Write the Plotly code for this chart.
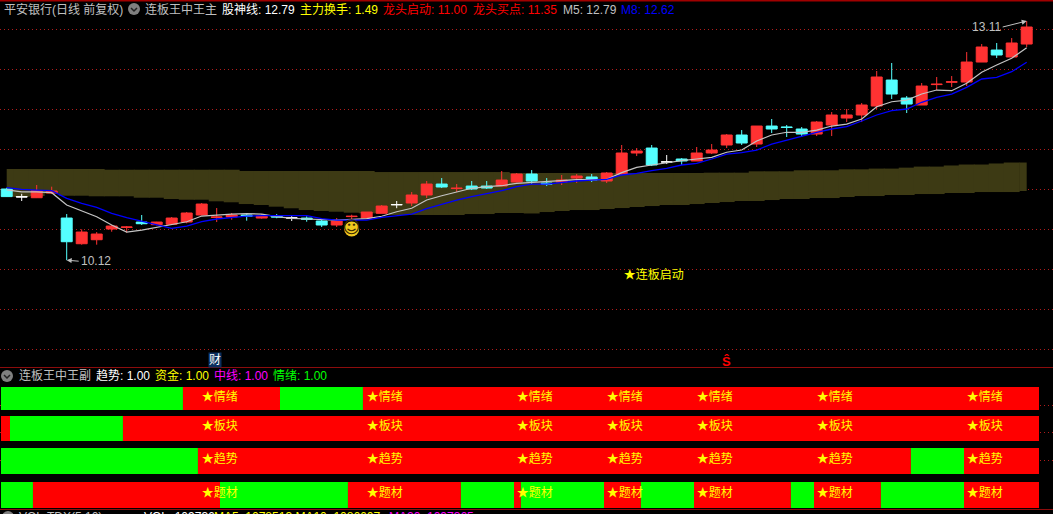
import plotly.graph_objects as go

W, H = 1053, 514
RED, CYAN, WHITE = "#ff3232", "#54ffff", "#ffffff"

opens = [11.01,10.915,10.901,10.96,10.647,10.326,10.376,10.51,10.53,10.597,10.564,10.569,10.597,10.685,10.655,10.66,10.685,10.647,10.672,10.65,10.647,10.61,10.56,10.665,10.647,10.706,10.816,10.835,10.935,11.072,11.015,11.047,11.047,11.047,11.097,11.197,11.085,11.097,11.147,11.16,11.11,11.197,11.46,11.522,11.35,11.385,11.36,11.46,11.56,11.685,11.572,11.797,11.785,11.76,11.697,11.81,11.897,11.935,12.047,12.372,12.147,12.06,12.315,12.345,12.347,12.597,12.747,12.66,12.822]
highs = [11.025,10.95,11.06,11.039,10.697,10.506,10.472,10.56,10.547,10.685,10.6,10.66,10.722,10.835,10.772,10.71,10.706,10.697,10.697,10.672,10.669,10.635,10.647,10.689,10.722,10.81,10.86,10.972,11.11,11.147,11.072,11.11,11.11,11.235,11.21,11.247,11.147,11.185,11.197,11.197,11.222,11.56,11.522,11.56,11.435,11.397,11.535,11.572,11.697,11.747,11.797,11.885,11.81,11.785,11.86,11.972,12.01,12.085,12.485,12.585,12.172,12.335,12.41,12.422,12.722,12.822,12.835,12.897,13.11]
lows = [10.91,10.86,10.897,10.947,10.12,10.314,10.314,10.476,10.464,10.56,10.556,10.56,10.581,10.681,10.597,10.626,10.614,10.639,10.644,10.61,10.601,10.535,10.535,10.631,10.647,10.706,10.77,10.797,10.897,11.022,10.972,10.997,11.01,11.047,11.094,11.072,11.047,11.06,11.085,11.097,11.085,11.185,11.422,11.297,11.322,11.31,11.36,11.447,11.522,11.56,11.535,11.71,11.66,11.66,11.672,11.672,11.847,11.847,12.01,12.135,11.96,12.06,12.247,12.285,12.297,12.597,12.647,12.66,12.785]
closes = [10.915,10.91,10.989,10.985,10.351,10.472,10.447,10.547,10.535,10.576,10.597,10.647,10.71,10.822,10.66,10.685,10.668,10.672,10.66,10.647,10.631,10.56,10.61,10.669,10.722,10.797,10.813,10.935,11.072,11.035,11.02,11.01,11.022,11.122,11.197,11.11,11.072,11.122,11.172,11.122,11.21,11.46,11.485,11.31,11.347,11.36,11.46,11.497,11.685,11.585,11.797,11.76,11.78,11.697,11.847,11.935,11.935,12.06,12.41,12.197,12.072,12.297,12.32,12.35,12.597,12.785,12.685,12.835,13.035]
white_bars = [1, 19, 26, 44]

ma5 = [11.0,10.973,10.973,10.964,10.81,10.739,10.664,10.56,10.472,10.497,10.531,10.56,10.601,10.672,10.685,10.697,10.701,10.697,10.664,10.644,10.635,10.631,10.622,10.631,10.639,10.669,10.726,10.769,10.872,10.926,10.969,11.019,11.039,11.051,11.081,11.094,11.101,11.114,11.126,11.126,11.131,11.214,11.281,11.31,11.339,11.364,11.385,11.406,11.469,11.497,11.61,11.685,11.719,11.719,11.747,11.797,11.822,11.885,12.039,12.101,12.122,12.197,12.247,12.239,12.331,12.469,12.56,12.644,12.776]
ma8 = [11.026,11.006,10.997,10.989,10.894,10.831,10.781,10.706,10.651,10.61,10.56,10.519,10.547,10.601,10.635,10.651,10.672,10.676,10.676,10.681,10.676,10.639,10.622,10.622,10.622,10.656,10.681,10.697,10.764,10.822,10.872,10.914,10.947,10.989,11.039,11.072,11.072,11.094,11.11,11.122,11.131,11.185,11.206,11.239,11.269,11.31,11.331,11.385,11.447,11.464,11.497,11.572,11.622,11.664,11.719,11.76,11.789,11.86,11.935,11.989,12.01,12.094,12.156,12.197,12.281,12.385,12.406,12.476,12.594]

band_top = [11.26]*7 + [11.251]*9 + [11.235]*9 + [11.222]*9 + [11.21]*13 + [11.214]*3 + [11.231]*3 + [11.244]*3 + [11.256]*2 + [11.265]*2 + [11.277] + [11.29]*2 + [11.304] + [11.316]*2 + [11.329] + [11.341]*2
band_bottom = [10.91,10.91,10.922,10.954,10.926,10.926,10.919,10.919,10.919,10.901,10.901,10.885,10.876,10.876,10.856,10.844,10.822,10.81,10.789,10.769,10.747,10.735,10.726,10.714,10.706,10.706,10.685,10.685,10.685,10.685,10.685,10.697,10.697,10.71,10.71,10.704,10.722,10.735,10.747,10.747,10.76,10.772,10.785,10.797,10.81,10.81,10.822,10.835,10.847,10.86,10.86,10.872,10.885,10.885,10.897,10.897,10.91,10.922,10.922,10.935,10.935,10.947,10.947,10.96,10.96,10.972,10.972,10.972,10.985]

rows = ["情绪", "板块", "趋势", "题材"]
row_edges = [
    [-0.38, 11.75, 18.22, 23.75, 68.82],
    [-0.38, 0.22, 7.75, 68.82],
    [-0.38, 12.75, 60.28, 63.82, 68.82],
    [-0.38, 1.75, 14.22, 22.75, 30.28, 33.82, 34.28, 39.82, 42.28, 45.82, 52.28, 53.82, 58.28, 63.82, 68.82],
]
row_first_green = [True, False, True, True]
label_bars = [13, 24, 34, 40, 46, 54, 64]
low_bar, low_price, high_bar, high_price = 4, 10.12, 68, 13.11

n = len(opens)
bars = list(range(n))
X0, X1 = -6.7 / 15, (W - 6.7) / 15
Y_TOP, Y_BOT = 13.3725, 13.3725 - 367 / 80
PRICE_TICK = 0.5
ROW_Y = [398.5, 428.5, 461, 495]
ROW_H = [23, 25, 26, 26]
ROW_TEXT_Y = [397.5, 427, 459.5, 493.5]

fig = go.Figure()

fig.add_trace(go.Bar(
    x=bars, base=band_bottom, y=[t - b for t, b in zip(band_top, band_bottom)],
    width=[0.53] + [1.06] * (n - 2) + [0.5], offset=[0] + [-0.53] * (n - 2) + [-0.5],
    marker=dict(color="#3d3a14", line=dict(width=0)), hoverinfo="skip"))


def candles(idx, color):
    fig.add_trace(go.Candlestick(
        x=idx,
        open=[opens[i] for i in idx], high=[highs[i] for i in idx],
        low=[lows[i] for i in idx], close=[closes[i] for i in idx],
        increasing=dict(line=dict(color=color, width=1), fillcolor=color),
        decreasing=dict(line=dict(color=color, width=1), fillcolor=color),
        hoverinfo="skip"))


candles([i for i in bars if i not in white_bars and closes[i] >= opens[i]], RED)
candles([i for i in bars if i not in white_bars and closes[i] < opens[i]], CYAN)
candles(white_bars, WHITE)

fig.add_trace(go.Scatter(x=bars, y=ma5, mode="lines", line=dict(color="#c4c4c4", width=1.2), hoverinfo="skip"))
fig.add_trace(go.Scatter(x=bars, y=ma8, mode="lines", line=dict(color="#0000ff", width=1.3), hoverinfo="skip"))

CJK = "Liberation Sans, Noto Sans CJK SC"
fig.add_trace(go.Scatter(
    x=[23], y=[10.51], mode="markers+text", text=["☺"], textposition="middle center",
    marker=dict(size=15, color="#f0c81e"),
    textfont=dict(family="DejaVu Sans", size=17, color="#3a2a00"), hoverinfo="skip"))
fig.add_trace(go.Scatter(
    x=[41.13], y=[9.92], mode="text", text=["★连板启动"], textposition="middle right",
    textfont=dict(family=CJK, size=12, color="#ffff00"), hoverinfo="skip"))

for r, name in enumerate(rows):
    edges = row_edges[r]
    colors = []
    green = row_first_green[r]
    for _ in edges[:-1]:
        colors.append("#00ff00" if green else "#ff0000")
        green = not green
    fig.add_trace(go.Bar(
        orientation="h", xaxis="x2", yaxis="y2",
        y=[ROW_Y[r]] * (len(edges) - 1), base=edges[:-1],
        x=[b - a for a, b in zip(edges[:-1], edges[1:])],
        width=ROW_H[r], marker=dict(color=colors, line=dict(width=0)), hoverinfo="skip"))
    fig.add_trace(go.Scatter(
        xaxis="x2", yaxis="y2", x=label_bars, y=[ROW_TEXT_Y[r]] * len(label_bars),
        mode="text", text=["★" + name] * len(label_bars), textposition="middle right",
        textfont=dict(family=CJK, size=12, color="#ffff00"), hoverinfo="skip"))

ann = []


def label(px, py, text, color, size=12, **kw):
    ann.append(dict(xref="paper", yref="paper", x=px / W, y=1 - py / H, text=text, showarrow=False,
                    xanchor="left", yanchor="middle", align="left",
                    font=dict(family=CJK, size=size, color=color), borderpad=0, **kw))


GRAY = "#c0c0c0"
label(3, 9.5, "平安银行(日线 前复权)", GRAY)
label(144, 9.5, "连板王中王主", GRAY)
label(221, 9.5, "股神线: 12.79", "#ffffff")
label(299, 9.5, "主力换手: 1.49", "#ffff00")
label(382, 9.5, "龙头启动: 11.00", "#ff0000")
label(472, 9.5, "龙头买点: 11.35", "#ff0000")
label(562, 9.5, "M5: 12.79", GRAY)
label(620, 9.5, "M8: 12.62", "#0000ff")
label(18, 375.5, "连板王中王副", GRAY)
label(95, 375.5, "趋势: 1.00", "#ffffff")
label(154, 375.5, "资金: 1.00", "#ffff00")
label(213, 375.5, "中线: 1.00", "#ff00ff")
label(272, 375.5, "情绪: 1.00", "#00ff00")
label(18, 517, "VOL-TDX(5,10)", GRAY)
label(143, 517, "VOL: 109736", "#ffffff")
label(213, 517, "MA5: 1078513 MA10: 1086607", "#ffff00")
label(388, 517, "MA20: 1097365", "#ff00ff")

ann.append(dict(x=low_bar, y=low_price, xref="x", yref="y", text=f"{low_price:.2f}", ax=12, ay=1,
                xanchor="left", showarrow=True, arrowhead=2, arrowsize=1, arrowwidth=1,
                arrowcolor=GRAY, standoff=0, font=dict(family=CJK, size=12, color=GRAY)))
ann.append(dict(x=high_bar, y=high_price, xref="x", yref="y", text=f"{high_price:.2f}", ax=-24, ay=6,
                xanchor="right", showarrow=True, arrowhead=2, arrowsize=1, arrowwidth=1,
                arrowcolor=GRAY, standoff=0, font=dict(family=CJK, size=12, color=GRAY)))
ann.append(dict(x=13.87, y=8.875, xref="x", yref="y", text="财", showarrow=False,
                bgcolor="#0a2f5e", borderpad=0, font=dict(family=CJK, size=12, color="#ffffff")))
ann.append(dict(x=48, y=8.86, xref="x", yref="y", text="<b>Ŝ</b>", showarrow=False,
                font=dict(family="Liberation Sans", size=13, color="#ff0000")))

shapes = []


def hline(py, color="#8c0c0c", w=1):
    shapes.append(dict(type="line", xref="paper", yref="paper", x0=0, x1=1, y0=1 - py / H, y1=1 - py / H,
                       line=dict(color=color, width=w), layer="above"))


hline(0.5, "#a00000", 2)
hline(367.5)
hline(509.5)


def icon(cx, cy):
    shapes.append(dict(type="circle", xref="paper", yref="paper",
                       x0=(cx - 6) / W, x1=(cx + 6) / W, y0=1 - (cy + 6) / H, y1=1 - (cy - 6) / H,
                       fillcolor="#808080", line=dict(width=0), layer="above"))
    px = lambda x, y: f"{x / W:.5f} {1 - y / H:.5f}"
    shapes.append(dict(type="path", xref="paper", yref="paper",
                       path=f"M {px(cx - 3, cy - 1)} L {px(cx, cy + 2)} L {px(cx + 3, cy - 1)}",
                       line=dict(color="#222222", width=1.5), layer="above"))


icon(134, 9)
icon(7, 376)
icon(8, 517)

grid_color = "#b01c1c"
fig.update_layout(
    width=W, height=H, margin=dict(l=0, r=0, t=0, b=0), autosize=False,
    paper_bgcolor="#000000", plot_bgcolor="#000000", showlegend=False,
    barmode="overlay", boxgap=0.27, boxgroupgap=0, annotations=ann, shapes=shapes,
    xaxis=dict(domain=[0, 1], range=[X0, X1], visible=False, rangeslider=dict(visible=False), fixedrange=True),
    yaxis=dict(domain=[(H - 367) / H, 1], range=[Y_BOT, Y_TOP], showticklabels=False, ticks="", zeroline=False,
               showline=False, showgrid=True, gridcolor=grid_color, griddash="1px,3px", gridwidth=1,
               tick0=13, dtick=PRICE_TICK, fixedrange=True),
    xaxis2=dict(domain=[0, 1], range=[X0, X1], visible=False, anchor="y2", fixedrange=True),
    yaxis2=dict(domain=[0, (H - 367) / H], range=[H, 367], showticklabels=False, ticks="", zeroline=False,
                showline=False, showgrid=True, gridcolor=grid_color, griddash="1px,3px", gridwidth=1,
                tickmode="array", tickvals=[405, 432, 460], anchor="x2", fixedrange=True),
)

fig.write_html("out.html", config=dict(displayModeBar=False),
               post_script="document.body.style.margin='0';document.body.style.overflow='hidden';")
